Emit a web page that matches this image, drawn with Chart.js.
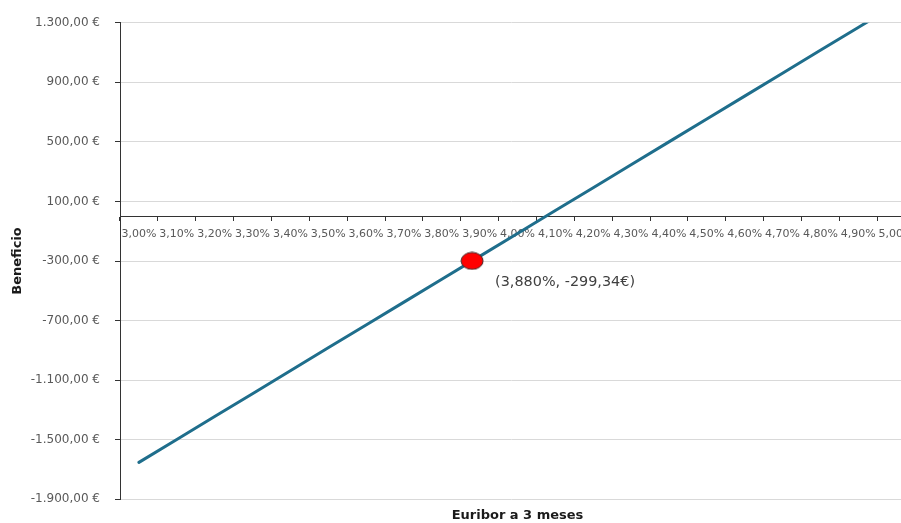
<!DOCTYPE html>
<html>
<head>
<meta charset="utf-8">
<script src="https://cdn.jsdelivr.net/npm/chart.js@4.4.1/dist/chart.umd.min.js"></script>
<style>
  html, body { margin: 0; padding: 0; background: #ffffff; overflow: hidden; }
  canvas { display: block; background: #ffffff; }
</style>
</head>
<body>
<canvas id="chart" width="901" height="523"></canvas>
<script>
// Euribor a 3 meses (categorías del eje horizontal)
const euriborRates = [3.00, 3.10, 3.20, 3.30, 3.40, 3.50, 3.60, 3.70, 3.80, 3.90, 4.00,
                      4.10, 4.20, 4.30, 4.40, 4.50, 4.60, 4.70, 4.80, 4.90, 5.00];
const rateLabels = ['3,00%', '3,10%', '3,20%', '3,30%', '3,40%', '3,50%', '3,60%', '3,70%',
                    '3,80%', '3,90%', '4,00%', '4,10%', '4,20%', '4,30%', '4,40%', '4,50%',
                    '4,60%', '4,70%', '4,80%', '4,90%', '5,00%'];

// Beneficio (€) para cada tipo
const profit = [-1652, -1498, -1344, -1191, -1037, -883, -730, -576, -422, -269, -115,
                39, 192, 346, 500, 653, 807, 961, 1115, 1268, 1422];

// Punto destacado
const highlightRate = 3.880;
const highlightProfit = -299.34;

// Marcas del eje vertical
const profitTicks = [-1900, -1500, -1100, -700, -300, 100, 500, 900, 1300];

function esNumber(v, decimals) {
  const s = Math.abs(v).toFixed(decimals);
  let [intPart, frac] = s.split('.');
  intPart = intPart.replace(/\B(?=(\d{3})+(?!\d))/g, '.');
  return (v < 0 ? '-' : '') + intPart + (frac ? ',' + frac : '');
}

const highlightText = '(' + esNumber(highlightRate, 3) + '%, ' + esNumber(highlightProfit, 2) + '€)';

function ellipseMarker(w, h) {
  const c = document.createElement('canvas');
  c.width = w + 2;
  c.height = h + 2;
  const g = c.getContext('2d');
  g.beginPath();
  g.ellipse(c.width / 2, c.height / 2, w / 2, h / 2, 0, 0, Math.PI * 2);
  g.fillStyle = '#ff0000';
  g.fill();
  g.lineWidth = 1;
  g.strokeStyle = '#3a2a2a';
  g.stroke();
  return c;
}

// The plot area continues past the right edge of the canvas, so the last
// category is partly cut off.
const widenPlot = {
  id: 'widenPlot',
  afterLayout(chart) {
    const extra = 14;
    const area = chart.chartArea;
    area.right += extra;
    area.width = area.right - area.left;
    ['x', 'x2', 'xr'].forEach(id => {
      const s = chart.scales[id];
      s.left = area.left;
      s.right = area.right;
      s.width = area.width;
      s.configure();
    });
  }
};

const highlightLabel = {
  id: 'highlightLabel',
  afterDatasetsDraw(chart) {
    const pt = chart.getDatasetMeta(0).data[0];
    if (!pt) return;
    const ctx = chart.ctx;
    ctx.save();
    ctx.font = '14.4px "DejaVu Sans"';
    ctx.fillStyle = '#404040';
    ctx.textAlign = 'left';
    ctx.textBaseline = 'middle';
    ctx.fillText(highlightText, pt.x + 23, pt.y + 21);
    ctx.restore();
  }
};

Chart.defaults.font.family = '"DejaVu Sans", sans-serif';

const step = euriborRates[1] - euriborRates[0];

new Chart(document.getElementById('chart'), {
  type: 'line',
  data: {
    labels: rateLabels,
    datasets: [
      {
        type: 'scatter',
        data: [{ x: highlightRate, y: highlightProfit }],
        xAxisID: 'xr',
        yAxisID: 'y',
        pointStyle: ellipseMarker(22, 17),
        pointRadius: 11,
        order: 0
      },
      {
        data: profit,
        xAxisID: 'x',
        yAxisID: 'y',
        borderColor: '#1f6e8c',
        borderWidth: 3,
        borderCapStyle: 'round',
        pointRadius: 0,
        tension: 0,
        fill: false,
        clip: 0,
        order: 1
      }
    ]
  },
  options: {
    responsive: false,
    devicePixelRatio: 1,
    animation: false,
    layout: { autoPadding: false, padding: { top: 22.7, right: 0, bottom: 0, left: 0 } },
    plugins: { legend: { display: false }, tooltip: { enabled: false }, title: { display: false } },
    scales: {
      x: {
        type: 'category',
        position: { y: 0 },
        offset: true,
        grid: {
          display: true,
          offset: true,
          drawOnChartArea: false,
          drawTicks: true,
          tickLength: 4,
          tickColor: '#333333'
        },
        border: { display: true, color: '#333333', width: 1 },
        ticks: {
          autoSkip: false,
          maxRotation: 0,
          minRotation: 0,
          padding: 7,
          color: '#595959',
          font: { size: 11 }
        },
        afterFit(scale) {
          scale.height = 0;
          scale.paddingLeft = 0;
          scale.paddingRight = 0;
        }
      },
      x2: {
        type: 'category',
        position: 'bottom',
        grid: { display: false, drawTicks: false },
        border: { display: false },
        ticks: { display: false },
        title: {
          display: true,
          text: 'Euribor a 3 meses',
          color: '#1a1a1a',
          font: { size: 13, weight: 'bold' },
          padding: { top: 8.1, bottom: 0 }
        },
        afterFit(scale) {
          scale.paddingLeft = 0;
          scale.paddingRight = 0;
        }
      },
      xr: {
        type: 'linear',
        display: false,
        min: euriborRates[0] - step / 2,
        max: euriborRates[euriborRates.length - 1] + step / 2
      },
      y: {
        type: 'linear',
        position: 'left',
        min: profitTicks[0],
        max: profitTicks[profitTicks.length - 1],
        afterBuildTicks(scale) {
          scale.ticks = profitTicks.map(v => ({ value: v }));
        },
        grid: {
          color: '#d9d9d9',
          lineWidth: 1,
          drawTicks: true,
          tickLength: 5,
          tickColor: '#333333'
        },
        border: { display: true, color: '#333333', width: 1 },
        ticks: {
          padding: 15,
          color: '#595959',
          font: { size: 12 },
          callback: v => esNumber(v, 2) + ' €'
        },
        title: {
          display: true,
          text: 'Beneficio',
          color: '#1a1a1a',
          font: { size: 13, weight: 'bold' },
          padding: { top: 10.2, bottom: 0 }
        },
        afterFit(scale) {
          scale.width = 120;
          scale.paddingTop = 0;
          scale.paddingBottom = 0;
        }
      }
    }
  },
  plugins: [widenPlot, highlightLabel]
});
</script>
</body>
</html>
